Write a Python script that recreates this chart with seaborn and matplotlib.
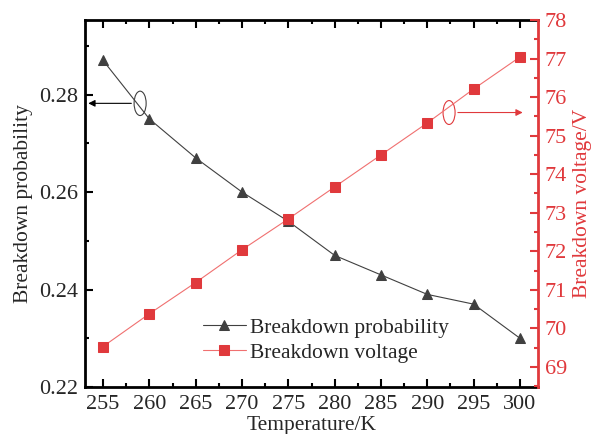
import matplotlib
matplotlib.use("Agg")
import matplotlib.pyplot as plt
import seaborn as sns
import pandas as pd
from matplotlib.patches import Ellipse
from matplotlib.ticker import MultipleLocator

temperature = [255, 260, 265, 270, 275, 280, 285, 290, 295, 300]
breakdown_probability = [0.287, 0.275, 0.267, 0.260, 0.254, 0.247, 0.243, 0.239, 0.237, 0.230]
breakdown_voltage = [69.53, 70.38, 71.19, 72.04, 72.84, 73.67, 74.50, 75.33, 76.21, 77.04]

df = pd.DataFrame({"T": temperature, "P": breakdown_probability, "V": breakdown_voltage})

sns.set_style("ticks")
plt.rcParams['font.family'] = ['Liberation Serif', 'DejaVu Serif']
plt.rcParams['mathtext.fontset'] = 'stix'

black = "#404040"
red = "#e0393c"

fig = plt.figure(figsize=(5.93, 4.34), dpi=100)
ax = fig.add_axes([85/593, 1 - 387/434, (538 - 85)/593, (387 - 20)/434])
ax2 = ax.twinx()

sns.lineplot(data=df, x="T", y="P", ax=ax, color=black, marker="^", markersize=7.5,
             markeredgecolor=black, linewidth=0.8, label="Breakdown probability", legend=False)
sns.lineplot(data=df, x="T", y="V", ax=ax2, color="#f07070", marker="s", markersize=6.5,
             markerfacecolor=red, markeredgecolor=red, linewidth=0.8, label="Breakdown voltage", legend=False)

ax.set_xlim(253.05, 301.95)
ax.set_ylim(0.22, 0.2953)
ax2.set_ylim(68.48, 78)

ax.xaxis.set_major_locator(MultipleLocator(5))
ax.xaxis.set_minor_locator(MultipleLocator(2.5))
ax.yaxis.set_major_locator(MultipleLocator(0.02))
ax.yaxis.set_minor_locator(MultipleLocator(0.01))
ax2.yaxis.set_major_locator(MultipleLocator(1))
ax2.yaxis.set_minor_locator(MultipleLocator(0.5))
ax.yaxis.set_major_formatter(plt.FuncFormatter(lambda v, p: f"{v:.2f}"))

fs_tick = 16
fs_lab = 15.5
ax.tick_params(axis="both", which="both", direction="in", top=True, labelsize=fs_tick, width=1.5, color="black")
ax.tick_params(which="major", length=6)
ax.tick_params(which="minor", length=3)
ax.tick_params(axis="y", right=False, pad=5)
ax.tick_params(axis="x", pad=6)
ax2.tick_params(axis="y", which="both", direction="in", colors=red, labelsize=fs_tick, width=1.5, pad=5)
ax2.tick_params(axis="y", which="major", length=6)
ax2.tick_params(axis="y", which="minor", length=3)

for s in ["left", "bottom", "top"]:
    ax.spines[s].set_linewidth(2)
    ax.spines[s].set_color("black")
ax.spines["right"].set_visible(False)
for s in ["left", "bottom", "top"]:
    ax2.spines[s].set_visible(False)
ax2.spines["right"].set_color(red)
ax2.spines["right"].set_linewidth(2)

ax.set_xlabel("Temperature/K", fontsize=fs_lab, labelpad=1)
ax.set_ylabel("Breakdown probability", fontsize=fs_lab, labelpad=4)
ax2.set_ylabel("Breakdown voltage/V", fontsize=fs_lab, color=red, labelpad=4)

# annotations
ax.add_patch(Ellipse((259.0, 0.2782), width=1.3, height=0.005, fill=False, edgecolor=black, linewidth=0.8))
ax.annotate("", xy=(253.1, 0.2782), xytext=(258.35, 0.2782),
            arrowprops=dict(arrowstyle="-|>", color="black", lw=0.8, mutation_scale=10))
ax2.add_patch(Ellipse((292.35, 75.6), width=1.3, height=0.62, fill=False, edgecolor=red, linewidth=0.8))
ax2.annotate("", xy=(300.6, 75.6), xytext=(293.0, 75.6),
             arrowprops=dict(arrowstyle="-|>", color=red, lw=0.8, mutation_scale=10))

h1, l1 = ax.get_legend_handles_labels()
h2, l2 = ax2.get_legend_handles_labels()
ax.legend(h1 + h2, l1 + l2, loc="upper left", bbox_to_anchor=(107/453, 1 - 287/367),
          frameon=False, fontsize=fs_lab, handlelength=2.0, handletextpad=0.2,
          labelspacing=0.22, borderpad=0)

fig.savefig("out.png", dpi=100)
